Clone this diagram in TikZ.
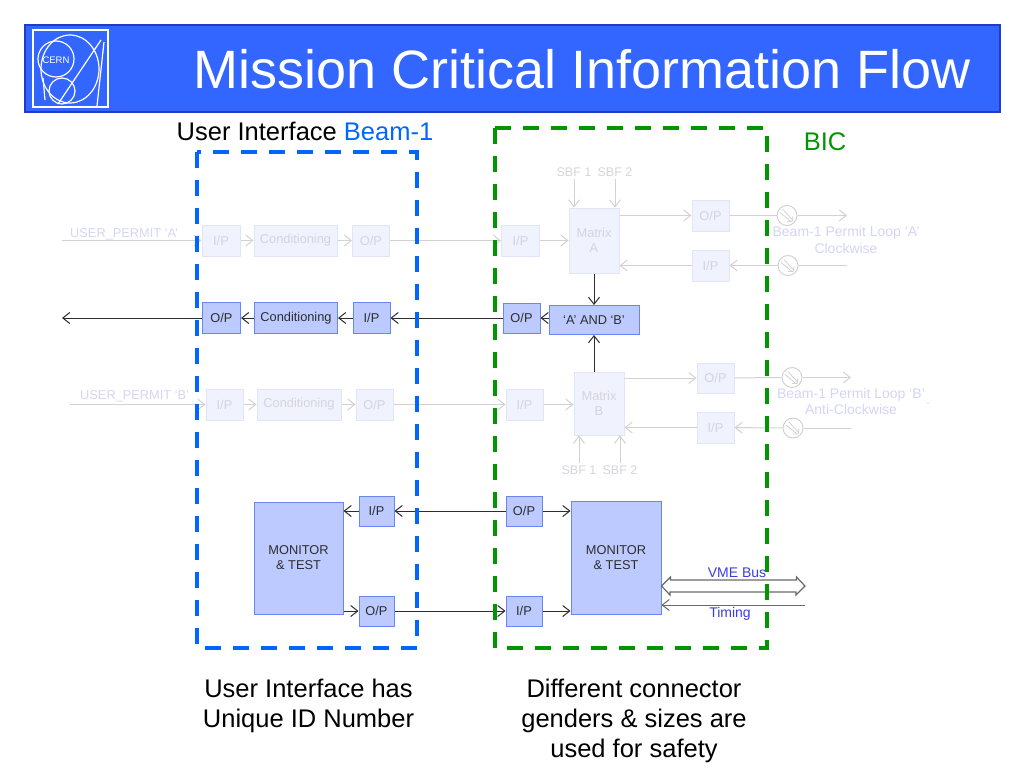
\documentclass[tikz,border=0pt]{standalone}
\usepackage{fontspec}
\setmainfont{Liberation Sans}
\usetikzlibrary{arrows.meta}
\definecolor{titleblue}{RGB}{51,102,255}
\definecolor{titleedge}{RGB}{30,60,200}
\definecolor{uiblue}{RGB}{0,102,255}
\definecolor{bicgreen}{RGB}{0,150,0}
\definecolor{actfill}{RGB}{188,202,255}
\definecolor{actdraw}{RGB}{105,135,240}
\definecolor{wirec}{RGB}{45,45,45}
\definecolor{ghostfill}{RGB}{240,242,253}
\definecolor{ghostdraw}{RGB}{224,229,248}
\definecolor{ghosttext}{RGB}{212,212,220}
\definecolor{ghostline}{RGB}{210,210,210}
\definecolor{ghostlabel}{RGB}{212,212,245}
\definecolor{busline}{RGB}{105,105,105}
\definecolor{buslabel}{RGB}{60,60,220}

\begin{document}
\begin{tikzpicture}[x=1pt, y=-1pt,
    box/.style={draw=actdraw, fill=actfill, line width=1pt, text=wirec, inner sep=0pt,
        minimum height=31pt, align=center, font=\fontsize{12.8}{15}\selectfont},
    ghost/.style={box, draw=ghostdraw, fill=ghostfill, text=ghosttext},
    wire/.style={draw=wirec, line width=1pt, -{Straight Barb[length=7pt,width=11pt]}},
    ghostwire/.style={wire, draw=ghostline},
    plug/.style={circle, draw=ghostline, line width=1pt, minimum size=20pt, inner sep=0pt,
        path picture={
            \draw[ghostline, line width=0.8pt] ([shift={(-7pt,3pt)}]path picture bounding box.center) -- ([shift={(4pt,-6pt)}]path picture bounding box.center);
            \draw[ghostline, line width=0.8pt] ([shift={(-4pt,6pt)}]path picture bounding box.center) -- ([shift={(6pt,-5pt)}]path picture bounding box.center);
            \draw[ghostline, line width=0.8pt] ([shift={(0pt,-6pt)}]path picture bounding box.center) -- ([shift={(5pt,-6pt)}]path picture bounding box.center) -- ([shift={(6pt,-1pt)}]path picture bounding box.center);
        }},
    fence/.style={line width=4pt, dash pattern=on 16pt off 12pt},
    big/.style={font=\fontsize{25.5}{30}\selectfont},
    ghostlab/.style={text=ghostlabel, inner sep=0pt, font=\fontsize{12.8}{15}\selectfont},
    sbf/.style={text=ghosttext, inner sep=2pt, font=\fontsize{12.5}{15}\selectfont},
    loop/.style={text=ghostlabel, align=center, inner sep=0pt, font=\fontsize{14}{16.5}\selectfont},
    buslab/.style={text=buslabel, inner sep=0pt, font=\fontsize{14}{16}\selectfont}]

    \useasboundingbox (0,0) rectangle (1024,768);

    \filldraw[fill=titleblue, draw=titleedge, line width=1.5pt] (25,25) rectangle (1000,112);
    \begin{scope}[white, line width=1.2pt]
        \draw (33,30) rectangle (108,107);
        \draw (56,59) circle[radius=18];
        \draw (70,69) ellipse[x radius=29, y radius=34];
        \draw (62,91) circle[radius=13];
        \draw (101,40) -- (58,104);
        \draw (104,42) -- (97,106);
        \draw (43,78) -- (45,100);
    \end{scope}
    \node[white, inner sep=0pt, font=\fontsize{9.5}{10}\selectfont] (cern) at (56,60) {CERN};
    \node[white, anchor=base, font=\fontsize{54}{60}\selectfont] (title) at (582,88) {Mission Critical Information Flow};

    \node[big, anchor=base] (uiTitle) at (305,140) {User Interface \textcolor{uiblue}{Beam-1}};
    \node[big, anchor=base, text=bicgreen] (bicTitle) at (825,150) {BIC};

    \coordinate (aStart) at (62,240.5);
    \node[ghostlab, anchor=base west] (permitA) at (70,237.5) {USER\_PERMIT ‘A’};
    \node[ghost, minimum width=38pt] (uaIn) at (221,240.5) {I/P};
    \node[ghost, minimum width=83pt] (uaCond) at (295.5,240.5) {Conditioning};
    \node[ghost, minimum width=37pt] (uaOut) at (371,240.5) {O/P};
    \node[ghost, minimum width=38pt] (baIn) at (520.5,240.5) {I/P};
    \node[ghost, minimum width=50pt, minimum height=65pt] (matA) at (594,240.5) {Matrix\\A};
    \node[ghost, minimum width=37pt] (aOut) at (710.5,215.5) {O/P};
    \node[ghost, minimum width=37pt] (aIn) at (710.5,265.5) {I/P};
    \node[plug] (aPlugOut) at (787,215.5) {};
    \node[plug] (aPlugIn) at (788,265.5) {};
    \coordinate (aLoopOut) at (847,215.5);
    \coordinate (aLoopIn) at (847,265.5);
    \node[sbf] (sbfA1) at (574,172) {SBF 1};
    \node[sbf] (sbfA2) at (615,172) {SBF 2};
    \node[loop] (loopA) at (846,240) {Beam-1 Permit Loop ‘A’\\Clockwise};

    \draw[ghostwire] (aStart) -- (uaIn);
    \draw[ghostwire] (uaIn) -- (uaCond);
    \draw[ghostwire] (uaCond) -- (uaOut);
    \draw[ghostwire] (uaOut) -- (baIn);
    \draw[ghostwire] (baIn) -- (matA);
    \draw[ghostwire] (sbfA1.south) -- (sbfA1.south |- matA.north);
    \draw[ghostwire] (sbfA2.south) -- (sbfA2.south |- matA.north);
    \draw[ghostwire] (matA.east |- aOut) -- (aOut);
    \draw[ghostwire, -] (aOut) -- (aPlugOut);
    \draw[ghostwire] (aPlugOut) -- (aLoopOut);
    \draw[ghostwire, -] (aLoopIn) -- (aPlugIn);
    \draw[ghostwire] (aPlugIn) -- (aIn);
    \draw[ghostwire] (aIn) -- (aIn -| matA.east);

    \coordinate (bStart) at (70,404.5);
    \node[ghostlab, anchor=base west] (permitB) at (80,399.5) {USER\_PERMIT ‘B’};
    \node[ghost, minimum width=37pt] (ubIn) at (224.5,404.5) {I/P};
    \node[ghost, minimum width=84pt] (ubCond) at (299,404.5) {Conditioning};
    \node[ghost, minimum width=37pt] (ubOut) at (374.5,404.5) {O/P};
    \node[ghost, minimum width=37pt] (bbIn) at (524.5,404.5) {I/P};
    \node[ghost, minimum width=50pt, minimum height=63pt] (matB) at (599,403.5) {Matrix\\B};
    \node[ghost, minimum width=37pt, minimum height=30pt] (bOutB) at (715.5,378) {O/P};
    \node[ghost, minimum width=37pt] (bInB) at (715.5,427.5) {I/P};
    \node[plug] (bPlugOut) at (792,377.5) {};
    \node[plug] (bPlugIn) at (793,428) {};
    \coordinate (bLoopOut) at (851,377.5);
    \coordinate (bLoopIn) at (851,428);
    \node[sbf] (sbfB1) at (579,470) {SBF 1};
    \node[sbf] (sbfB2) at (620,470) {SBF 2};
    \node[loop] (loopB) at (851,401.5) {Beam-1 Permit Loop ‘B’\\Anti-Clockwise};
    \node[loop] (loopDot) at (928,404) {.};

    \draw[ghostwire] (bStart) -- (ubIn);
    \draw[ghostwire] (ubIn) -- (ubCond);
    \draw[ghostwire] (ubCond) -- (ubOut);
    \draw[ghostwire] (ubOut) -- (bbIn);
    \draw[ghostwire] (bbIn) -- (bbIn -| matB.west);
    \draw[ghostwire] (sbfB1.north) -- (sbfB1.north |- matB.south);
    \draw[ghostwire] (sbfB2.north) -- (sbfB2.north |- matB.south);
    \draw[ghostwire] (matB.east |- bOutB) -- (bOutB);
    \draw[ghostwire, -] (bOutB) -- (bPlugOut);
    \draw[ghostwire] (bPlugOut) -- (bLoopOut);
    \draw[ghostwire, -] (bLoopIn) -- (bPlugIn);
    \draw[ghostwire] (bPlugIn) -- (bInB);
    \draw[ghostwire] (bInB) -- (bInB -| matB.east);

    \coordinate (uExit) at (62,318);
    \node[box, minimum width=38pt] (uOut) at (221.5,318) {O/P};
    \node[box, minimum width=83pt] (uCond) at (296,318) {Conditioning};
    \node[box, minimum width=37pt] (uIn) at (371.5,318) {I/P};
    \node[box, minimum width=37pt, minimum height=30pt] (bOut) at (521.5,318) {O/P};
    \node[box, minimum width=90pt, minimum height=29pt] (permitAnd) at (594,320) {‘A’ AND ‘B’};

    \draw[wire] (bOut) -- (uIn);
    \draw[wire] (uIn) -- (uCond);
    \draw[wire] (uCond) -- (uOut);
    \draw[wire] (uOut) -- (uExit);
    \draw[wire] (permitAnd.west |- bOut) -- (bOut);
    \draw[wire] (matA) -- (permitAnd);
    \draw[wire] (permitAnd |- matB.north) -- (permitAnd);

    \node[box, minimum width=89pt, minimum height=112pt] (monUI) at (298.5,558) {MONITOR\\\& TEST};
    \node[box, minimum width=35pt, minimum height=30pt] (lIn) at (376.5,511) {I/P};
    \node[box, minimum width=35pt, minimum height=30pt] (lOut) at (376.5,611) {O/P};
    \node[box, minimum width=36pt, minimum height=30pt] (rOut) at (524,511) {O/P};
    \node[box, minimum width=36pt, minimum height=30pt] (rIn) at (524,611) {I/P};
    \node[box, minimum width=90pt, minimum height=113pt] (monBIC) at (616,558) {MONITOR\\\& TEST};

    \draw[wire] (rOut) -- (lIn);
    \draw[wire] (lIn) -- (lIn -| monUI.east);
    \draw[wire] (monUI.east |- lOut) -- (lOut);
    \draw[wire] (lOut) -- (rIn);
    \draw[wire] (rOut) -- (rOut -| monBIC.west);
    \draw[wire] (rIn) -- (rIn -| monBIC.west);

    \coordinate (vmeEnd) at (805,586);
    \coordinate (timingEnd) at (805,605);
    \draw[busline, line width=1.2pt, fill=white, line join=miter] (monBIC.east |- vmeEnd) -- ++(9,-9) -- ++(0,3) -- ++(126,0) -- ++(0,-3) -- (vmeEnd)
        -- ++(-9,9) -- ++(0,-3) -- ++(-126,0) -- ++(0,3) -- cycle;
    \draw[wire, draw=busline] (timingEnd) -- (timingEnd -| monBIC.east);
    \node[buslab] (vmeLab) at (737,573) {VME Bus};
    \node[buslab] (timingLab) at (730,614) {Timing};

    \draw[fence, uiblue] (197,152) rectangle (417,648);
    \draw[fence, bicgreen] (495,128) rectangle (767,648);

    \node[big, align=center, anchor=base] (uiNote) at (308.5,727) {User Interface has\\Unique ID Number};
    \node[big, align=center, anchor=base] (bicNote) at (634,757) {Different connector\\genders \& sizes are\\used for safety};
\end{tikzpicture}
\end{document}
